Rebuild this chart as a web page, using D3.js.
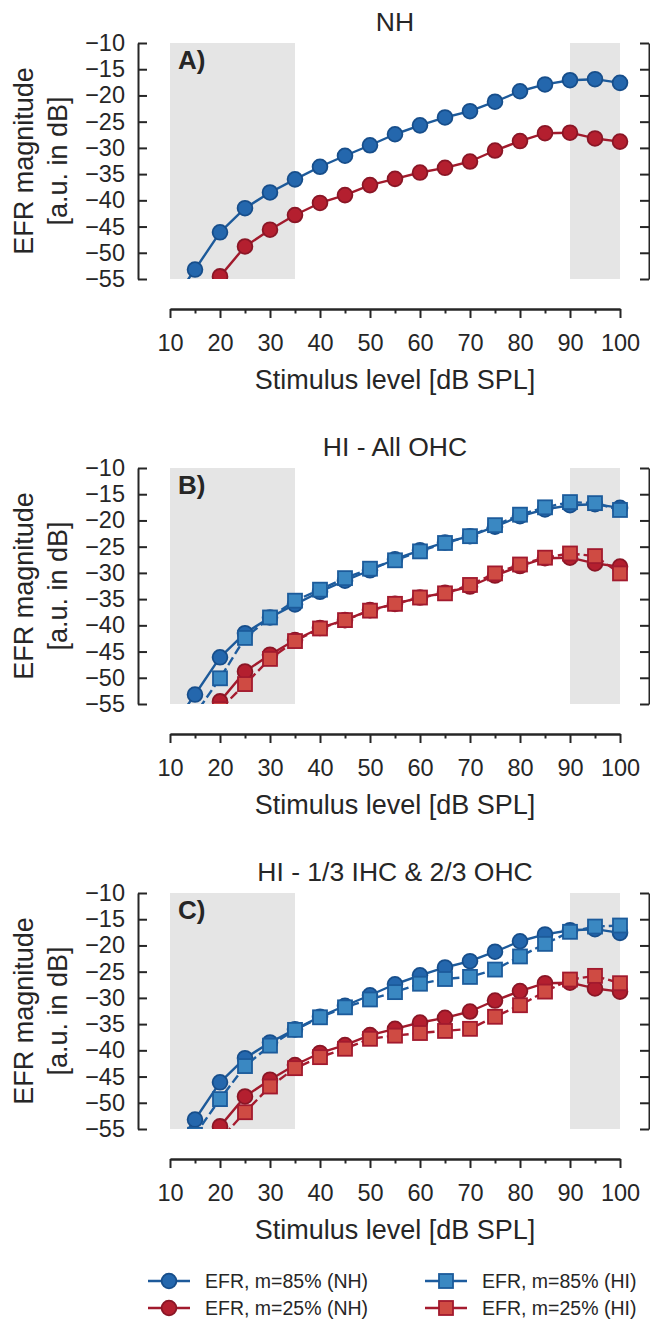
<!DOCTYPE html>
<html>
<head>
<meta charset="utf-8">
<script src="https://cdn.jsdelivr.net/npm/d3@7"></script>
<style>
  body { margin: 0; background: #fff; }
  svg { display: block; }
  text { font-family: "Liberation Sans", Arial, Helvetica, sans-serif; fill: #262626; }
</style>
</head>
<body>
<svg id="chart" width="650" height="1323"></svg>
<script>
// Stimulus levels (dB SPL)
const levels = [10, 15, 20, 25, 30, 35, 40, 45, 50, 55, 60, 65, 70, 75, 80, 85, 90, 95, 100];

// Normal-hearing EFR magnitudes (a.u. in dB)
const nh85 = [-60.0, -53.2, -46.1, -41.5, -38.5, -36.0, -33.6, -31.5, -29.5, -27.4, -25.7, -24.2, -23.0, -21.2, -19.2, -17.9, -17.1, -16.9, -17.6];
const nh25 = [-67.0, -61.0, -54.5, -48.8, -45.6, -42.8, -40.5, -39.0, -37.1, -35.9, -34.7, -33.8, -32.6, -30.5, -28.7, -27.2, -27.1, -28.2, -28.8];

// Hearing-impaired: all OHC loss
const hiOhc85 = [-64.0, -57.0, -50.1, -42.4, -38.5, -35.3, -33.2, -31.0, -29.2, -27.6, -25.9, -24.3, -23.0, -20.9, -18.9, -17.5, -16.5, -16.7, -18.0];
const hiOhc25 = [-70.0, -63.0, -56.0, -51.2, -46.4, -43.0, -40.6, -39.0, -37.2, -35.9, -34.7, -33.9, -32.3, -30.1, -28.4, -27.1, -26.3, -26.8, -30.1];

// Hearing-impaired: 1/3 IHC & 2/3 OHC loss
const hiMix85 = [-62.0, -56.1, -49.3, -43.0, -39.1, -36.1, -33.7, -31.8, -30.3, -28.9, -27.3, -26.4, -26.0, -24.6, -22.1, -19.7, -17.4, -16.4, -16.2];
const hiMix25 = [-70.0, -63.0, -57.0, -51.8, -46.9, -43.4, -41.3, -39.7, -37.8, -37.2, -36.7, -36.3, -35.9, -33.6, -31.4, -28.8, -26.5, -25.8, -27.2];

// Axis ticks
const xTicksMajor = [10, 20, 30, 40, 50, 60, 70, 80, 90, 100];
const xTicksMinor = [15, 25, 35, 45, 55, 65, 75, 85, 95];
const yTicks = [-10, -15, -20, -25, -30, -35, -40, -45, -50, -55];

// Shaded level ranges
const shadedRanges = [[10, 35], [90, 100]];

const panelTitles = ["NH", "HI - All OHC", "HI - 1/3 IHC & 2/3 OHC"];
const panelTags = ["A)", "B)", "C)"];
const panelHI = [null, [hiOhc85, hiOhc25], [hiMix85, hiMix25]];

const legendLabels = ["EFR, m=85% (NH)", "EFR, m=25% (NH)", "EFR, m=85% (HI)", "EFR, m=25% (HI)"];

// Styles
const style = {
  nh85: { line: "#1d5a9a", fill: "#2467ad", edge: "#174e8b", shape: "circle", dash: null },
  nh25: { line: "#a11a2c", fill: "#b41f2f", edge: "#8a1626", shape: "circle", dash: null },
  hi85: { line: "#1d5c9e", fill: "#3a88c2", edge: "#1c5b9b", shape: "square", dash: "9,4" },
  hi25: { line: "#a51b2e", fill: "#cf4b43", edge: "#a21a2e", shape: "square", dash: "9,4" }
};

const svg = d3.select("#chart");
const axisColor = "#262626";

const x = d3.scaleLinear().domain([10, 100]).range([170, 620]);
const panelTop = [43, 468, 893];
const panelH = 236;

function drawMarkers(g, data, st, yScale) {
  const pts = levels.map((l, i) => [l, data[i]]);
  if (st.shape === "circle") {
    g.selectAll(null).data(pts).enter().append("circle")
      .attr("cx", d => x(d[0])).attr("cy", d => yScale(d[1])).attr("r", 7.4)
      .attr("fill", st.fill).attr("stroke", st.edge).attr("stroke-width", 1.8);
  } else {
    const s = 14;
    g.selectAll(null).data(pts).enter().append("rect")
      .attr("x", d => x(d[0]) - s / 2).attr("y", d => yScale(d[1]) - s / 2)
      .attr("width", s).attr("height", s)
      .attr("fill", st.fill).attr("stroke", st.edge).attr("stroke-width", 1.8);
  }
}

function drawSeries(g, data, st, yScale) {
  const line = d3.line().x((d, i) => x(levels[i])).y(d => yScale(d));
  g.append("path").datum(data)
    .attr("d", line).attr("fill", "none")
    .attr("stroke", st.line).attr("stroke-width", 2.4)
    .attr("stroke-dasharray", st.dash)
    .attr("stroke-linejoin", "round");
  drawMarkers(g, data, st, yScale);
}

function styleAxis(g, fontSize) {
  g.selectAll(".domain").attr("stroke", axisColor).attr("stroke-width", 2);
  g.selectAll(".tick line").attr("stroke", axisColor).attr("stroke-width", 2);
  g.selectAll(".tick text").attr("fill", axisColor).attr("font-size", fontSize)
    .attr("font-family", "Liberation Sans, Arial, sans-serif");
}

panelTop.forEach((top, p) => {
  const bottom = top + panelH;
  const y = d3.scaleLinear().domain([-55, -10]).range([bottom, top]);
  const g = svg.append("g");

  // shaded level ranges
  g.selectAll(null).data(shadedRanges).enter().append("rect")
    .attr("x", d => x(d[0])).attr("width", d => x(d[1]) - x(d[0]))
    .attr("y", y(-10)).attr("height", y(-55) - y(-10))
    .attr("fill", "#e5e5e5");

  // clip to the axes area
  const clipId = "clip" + p;
  svg.append("clipPath").attr("id", clipId).append("rect")
    .attr("x", 150).attr("y", top).attr("width", 490).attr("height", panelH);
  const plot = g.append("g").attr("clip-path", `url(#${clipId})`);

  drawSeries(plot, nh85, style.nh85, y);
  drawSeries(plot, nh25, style.nh25, y);
  if (panelHI[p]) {
    drawSeries(plot, panelHI[p][0], style.hi85, y);
    drawSeries(plot, panelHI[p][1], style.hi25, y);
  }

  // left axis (ticks point inward)
  const yAxisG = g.append("g").attr("transform", "translate(138,0)")
    .call(d3.axisLeft(y).tickValues(yTicks).tickSize(-9).tickSizeOuter(0).tickPadding(13)
      .tickFormat(d => "\u2212" + Math.abs(d)));
  styleAxis(yAxisG, 23.5);

  // right axis, no labels
  const yAxisR = g.append("g").attr("transform", "translate(649,0)")
    .call(d3.axisRight(y).tickValues(yTicks).tickSize(-9).tickSizeOuter(0).tickFormat(""));
  styleAxis(yAxisR, 0);

  // bottom axis, offset below the plot
  const axY = bottom + 30;
  const xMinor = g.append("g").attr("transform", `translate(0,${axY})`)
    .call(d3.axisBottom(x).tickValues(xTicksMinor).tickSize(4.5).tickSizeOuter(0).tickFormat(""));
  styleAxis(xMinor, 0);
  const xMajor = g.append("g").attr("transform", `translate(0,${axY})`)
    .call(d3.axisBottom(x).tickValues(xTicksMajor).tickSize(9).tickSizeOuter(0).tickPadding(16));
  styleAxis(xMajor, 23.5);

  // titles and labels
  g.append("text").attr("x", 395).attr("y", top - 12).attr("text-anchor", "middle")
    .attr("font-size", 26.5).text(panelTitles[p]);
  g.append("text").attr("x", 178).attr("y", top + 26).attr("font-size", 26)
    .attr("font-weight", "bold").text(panelTags[p]);

  const cy = (top + bottom) / 2;
  g.append("text").attr("transform", `translate(33,${cy}) rotate(-90)`)
    .attr("text-anchor", "middle").attr("font-size", 27).text("EFR magnitude");
  g.append("text").attr("transform", `translate(67,${cy}) rotate(-90)`)
    .attr("text-anchor", "middle").attr("font-size", 27).text("[a.u. in dB]");

  g.append("text").attr("x", 395).attr("y", bottom + 110).attr("text-anchor", "middle")
    .attr("font-size", 27).text("Stimulus level [dB SPL]");
});

// legend
const legendItems = [
  { st: style.nh85, label: legendLabels[0], col: 0, row: 0 },
  { st: style.nh25, label: legendLabels[1], col: 0, row: 1 },
  { st: style.hi85, label: legendLabels[2], col: 1, row: 0 },
  { st: style.hi25, label: legendLabels[3], col: 1, row: 1 }
];
const legendCols = [148, 425];
const legendRows = [1281, 1308];
const lg = svg.append("g");
legendItems.forEach(it => {
  const x0 = legendCols[it.col], yy = legendRows[it.row];
  lg.append("line").attr("x1", x0).attr("x2", x0 + 42).attr("y1", yy).attr("y2", yy)
    .attr("stroke", it.st.line).attr("stroke-width", 2.4);
  if (it.st.shape === "circle") {
    lg.append("circle").attr("cx", x0 + 21).attr("cy", yy).attr("r", 7.4)
      .attr("fill", it.st.fill).attr("stroke", it.st.edge).attr("stroke-width", 1.8);
  } else {
    lg.append("rect").attr("x", x0 + 21 - 7).attr("y", yy - 7).attr("width", 14).attr("height", 14)
      .attr("fill", it.st.fill).attr("stroke", it.st.edge).attr("stroke-width", 1.8);
  }
  lg.append("text").attr("x", x0 + 57).attr("y", yy).attr("dy", "0.35em")
    .attr("font-size", 19.5).text(it.label);
});
</script>
</body>
</html>
